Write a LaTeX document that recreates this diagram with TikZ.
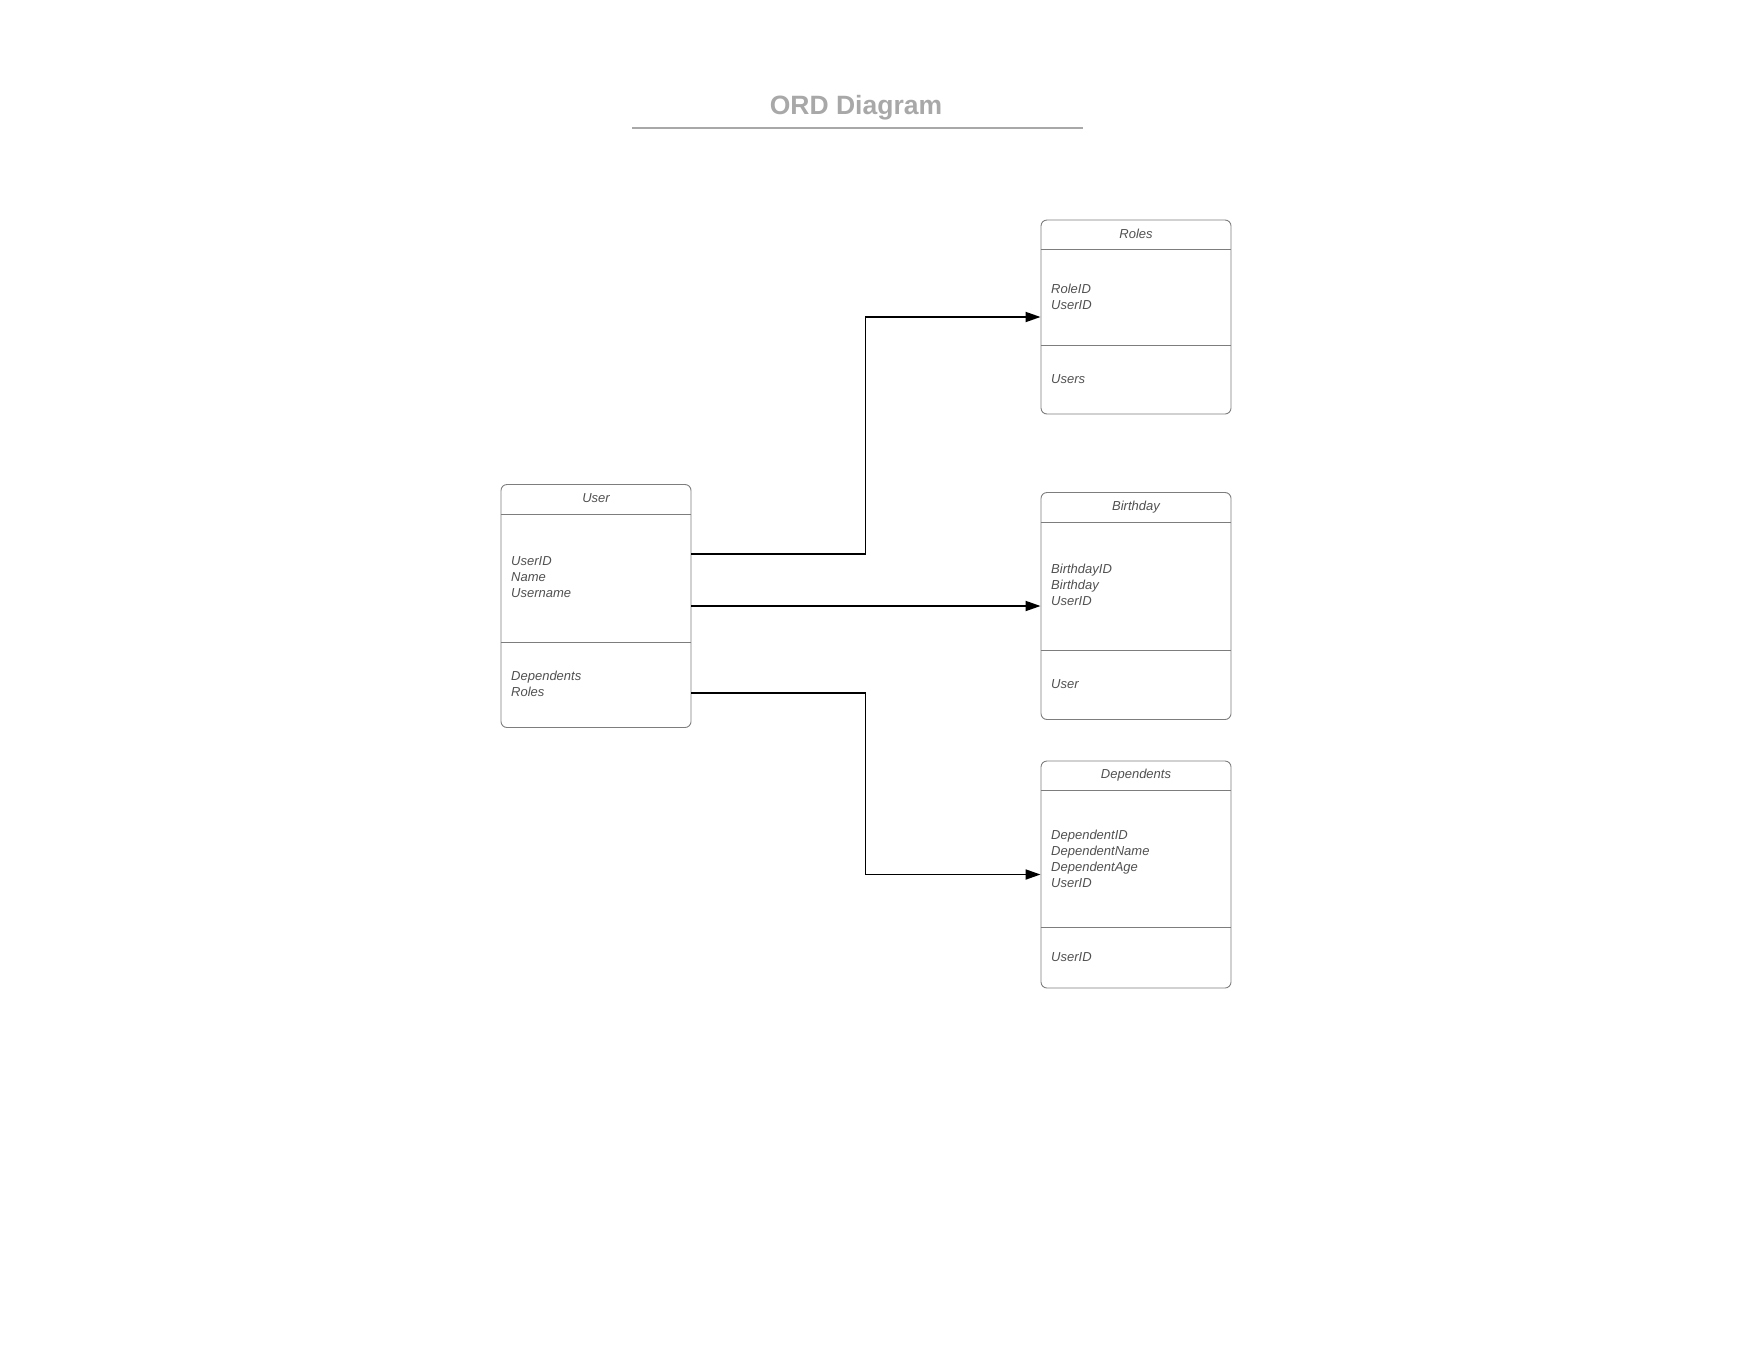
\documentclass[tikz,border=0pt]{standalone}
\usepackage{fontspec}
\setmainfont{Liberation Sans}
\usepackage{tikz}
\usetikzlibrary{arrows.meta,positioning}
\definecolor{titlegray}{RGB}{168,168,168}
\definecolor{boxgray}{RGB}{125,125,125}
\definecolor{textgray}{RGB}{80,80,80}

\begin{document}
\begin{tikzpicture}[x=1pt,y=-1pt,
    entity/.style={rectangle,draw=boxgray,line width=0.9pt,rounded corners=6pt,inner sep=0pt,minimum width=190pt},
    sep/.style={draw=boxgray,line width=0.9pt},
    head/.style={font=\fontsize{13}{16}\selectfont\itshape,text=textgray,inner sep=0pt},
    attr/.style={font=\fontsize{13}{16}\selectfont\itshape,text=textgray,inner sep=0pt,anchor=west,align=left},
    link/.style={-{Triangle[length=15pt,width=10pt]},line width=1.8pt,black}]
    \useasboundingbox (0,0) rectangle (1763,1360);

    % Title
    \node[font=\fontsize{26.5}{30}\selectfont\bfseries,text=titlegray,anchor=base] (title) at (856,114) {ORD Diagram};
    \draw[titlegray,line width=1.4pt] (632,128) -- (1083,128);

    % User
    \node[entity,minimum height=243pt] (user) at (596,606) {};
    \draw[sep] ([yshift=-30pt]user.north west) -- ([yshift=-30pt]user.north east);
    \draw[sep] ([yshift=-158pt]user.north west) -- ([yshift=-158pt]user.north east);
    \node[head] (userhead) at (596,498) {User};
    \node[attr] (userattr) at (511,577) {UserID\\Name\\Username};
    \node[attr] (userrel) at (511,684) {Dependents\\Roles};

    % Roles
    \node[entity,minimum height=194pt] (roles) at (1136,317) {};
    \draw[sep] ([yshift=-30pt]roles.north west) -- ([yshift=-30pt]roles.north east);
    \draw[sep] ([yshift=-126pt]roles.north west) -- ([yshift=-126pt]roles.north east);
    \node[head] (roleshead) at (1136,234) {Roles};
    \node[attr] (rolesattr) at (1051,297) {RoleID\\UserID};
    \node[attr] (rolesrel) at (1051,379) {Users};

    % Birthday
    \node[entity,minimum height=227pt] (birthday) at (1136,606) {};
    \draw[sep] ([yshift=-30pt]birthday.north west) -- ([yshift=-30pt]birthday.north east);
    \draw[sep] ([yshift=-158pt]birthday.north west) -- ([yshift=-158pt]birthday.north east);
    \node[head] (birthdayhead) at (1136,507) {Birthday};
    \node[attr] (birthdayattr) at (1051,585) {BirthdayID\\Birthday\\UserID};
    \node[attr] (birthdayrel) at (1051,684) {User};

    % Dependents
    \node[entity,minimum height=227pt] (dependents) at (1136,874.5) {};
    \draw[sep] ([yshift=-30pt]dependents.north west) -- ([yshift=-30pt]dependents.north east);
    \draw[sep] ([yshift=-167pt]dependents.north west) -- ([yshift=-167pt]dependents.north east);
    \node[head] (dependentshead) at (1136,775) {Dependents};
    \node[attr] (dependentsattr) at (1051,859) {DependentID\\DependentName\\DependentAge\\UserID};
    \node[attr] (dependentsrel) at (1051,957) {UserID};

    % Connectors
    \draw[link] ([yshift=52pt]user.east) -- ++(174,0) |- (roles.west);
    \draw[link] (user.east) -- (birthday.west);
    \draw[link] ([yshift=-87pt]user.east) -- ++(174,0) |- (dependents.west);
\end{tikzpicture}
\end{document}
